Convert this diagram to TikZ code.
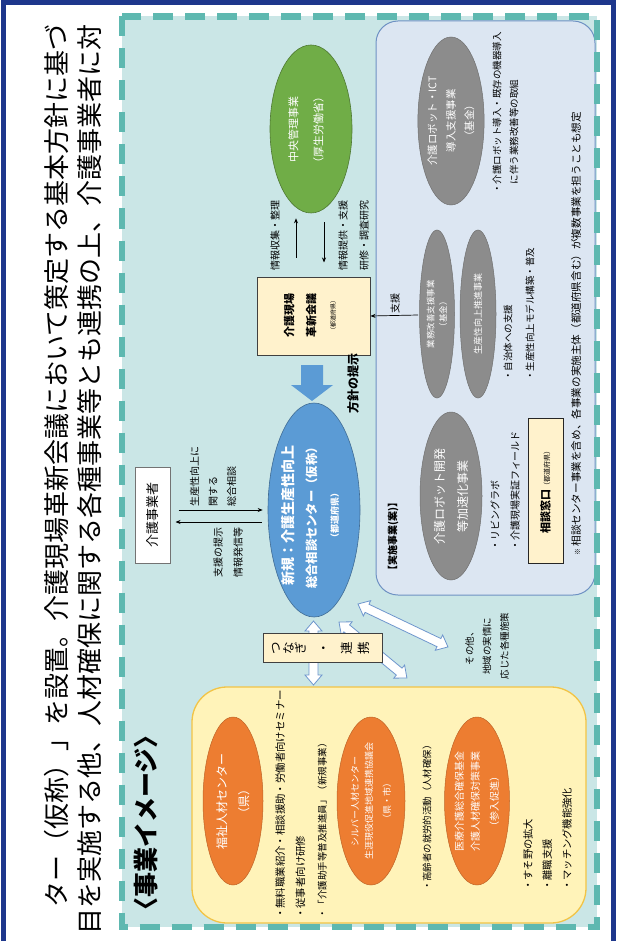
\documentclass[tikz,border=0pt]{standalone}
\usepackage{fontspec}
\setmainfont{Noto Sans CJK JP}
\usetikzlibrary{shapes.geometric,arrows.meta,calc}
\newcommand\myfs[1]{\fontsize{#1}{#1}\selectfont}
\definecolor{navy}{RGB}{30,55,140}
\definecolor{tealb}{RGB}{94,184,176}
\definecolor{tealf}{RGB}{202,230,230}
\definecolor{lbluef}{RGB}{220,230,242}
\definecolor{lbluel}{RGB}{110,145,195}
\definecolor{yelf}{RGB}{255,243,185}
\definecolor{yell}{RGB}{242,196,70}
\definecolor{beige}{RGB}{255,242,204}
\definecolor{grn}{RGB}{112,173,71}
\definecolor{blu}{RGB}{91,155,213}
\definecolor{org}{RGB}{237,125,49}
\definecolor{gry}{RGB}{140,140,140}
\definecolor{warrow}{RGB}{110,150,205}
\newcommand\dblarrow[3]{%
  \begin{scope}[shift={#1}, rotate=#2]
  \draw[draw=warrow, fill=white, line width=0.8pt, line join=miter]
    (0,0) -- (10,8.5) -- (10,4.5) -- (#3-10,4.5) -- (#3-10,8.5) -- (#3,0)
    -- (#3-10,-8.5) -- (#3-10,-4.5) -- (10,-4.5) -- (10,-8.5) -- cycle;
  \end{scope}}
\begin{document}
\begin{tikzpicture}[x=1pt,y=-1pt,
  txt/.style={rotate=90, inner sep=0pt, align=center},
  arr/.style={-{Stealth[length=5pt,width=4pt]}, line width=0.7pt, black},
  boxst/.style={rotate=90, draw=black!75, fill=beige, line width=1pt, inner sep=0pt},
  gell/.style={ellipse, rotate=90, fill=gry, draw=gry!80!black, line width=0.5pt, inner sep=0pt, text=white, align=center, minimum width=168pt},
  oell/.style={ellipse, rotate=90, fill=org, draw=org!80!black, line width=0.5pt, inner sep=0pt, text=white, align=center, minimum width=168pt}]
\useasboundingbox (0,0) rectangle (616,941);
\begin{scope}
\clip (0,0) rectangle (616,941);
\fill[white] (0,0) rectangle (616,941);
\draw[navy, line width=5pt] (3,3) rectangle (613,1000);
\node[txt, anchor=east, font=\myfs{26}] (h1) at (57,24) {ター（仮称）」を設置。介護現場革新会議において策定する基本方針に基づ};
\node[txt, anchor=east, font=\myfs{26}] (h2) at (90,24) {目を実施する他、人材確保に関する各種事業等とも連携の上、介護事業者に対};
\end{scope}
% background region
\fill[tealf] (122,16.5) rectangle (597,927);
\draw[lbluel, fill=lbluef, line width=1pt, rounded corners=22pt] (376,21) rectangle (595,595);
\draw[yell, fill=yelf, line width=1.3pt, rounded corners=35pt] (192,687) rectangle (586,923);
% white double arrows
\coordinate (w1a) at (313.5,621); \coordinate (w1b) at (313.5,685);
\coordinate (w2a) at (339,622); \coordinate (w2b) at (407,678);
\coordinate (w3a) at (358,604); \coordinate (w3b) at (448,647);
\dblarrow{(w1a)}{-90}{64}
\dblarrow{(w2a)}{-39.5}{88}
\dblarrow{(w3a)}{-25.5}{99.7}
% title
\node[txt, anchor=west, font=\bfseries\myfs{25}] (title) at (146,923) {〈事業イメージ〉};
% green ellipse
\node[ellipse, rotate=90, fill=grn, draw=grn!70!black, line width=0.6pt, minimum width=168pt, minimum height=82pt, inner sep=0pt] (chuo) at (311,129) {};
\node[txt, text=white, font=\myfs{11}] (chuot) at (306,130) {中央管理事業\\[14pt]（厚生労働省）};
% kaigi box
\node[boxst, minimum width=78pt, minimum height=113pt] (kaigi) at (313.5,316) {};
\node[txt, font=\bfseries\myfs{11}] (kaigit) at (310,315) {介護現場\\[11pt]革新会議\\[9pt]{\mdseries\myfs{6}（都道府県）}};
\draw[arr] ($(kaigi.east)+(-17.5,-19)$) -- ($(chuo.west)+(-15,5)$);
\draw[arr] ($(chuo.west)+(13,9)$) -- ($(kaigi.east)+(10.5,-14)$);
\node[txt, font=\myfs{10}] (lbl1) at (275,235) {情報収集・整理};
\node[txt, font=\myfs{10}] (lbl2) at (353.5,235) {情報提供・支援\\[11pt]研修・調査研究};
\coordinate (shienS) at (418,315);
\draw[arr] (shienS) -- (kaigi.south);
\node[txt, font=\myfs{10}] (shien) at (395,303) {支援};
% blue block arrow
\fill[blu] (301,365) -- (323,365) -- (323,385) -- (333,385) -- (312,401) -- (291,385) -- (301,385) -- cycle;
\node[txt, font=\bfseries\myfs{12}] (hoshin) at (353,383) {方針の提示};
% blue ellipse
\node[ellipse, rotate=90, fill=blu, draw=blu!70!black, line width=0.6pt, minimum width=214pt, minimum height=92pt, inner sep=0pt] (sodan) at (314,510) {};
\node[txt, text=white, font=\bfseries\myfs{12}] (sodant) at (310,515) {{\myfs{14}新規：介護生産性向上}\\[11pt]{\myfs{12.3}総合相談センター（仮称）}\\[10pt]{\myfs{9}（都道府県）}};
% jigyosha
\node[rotate=90, draw=black!55, fill=white, line width=1pt, minimum width=96pt, minimum height=35pt, inner sep=0pt, font=\myfs{13}] (jigyosha) at (152.5,515) {介護事業者};
\draw[arr] ($(jigyosha.south)+(8,-5)$) -- ($(sodan.north)+(-5,0)$);
\draw[arr] ($(sodan.north)+(-6,12)$) -- ($(jigyosha.south)+(5,7)$);
\node[txt, anchor=west, align=left, font=\myfs{10}] (lblA) at (213,507) {生産性向上に\\[8.5pt]関する\\[8.5pt]総合相談};
\node[txt, anchor=west, align=left, font=\myfs{10}] (lblB) at (228,578) {支援の提示\\[10pt]情報発信等};
% gray ellipses
\node[gell, minimum height=62pt, font=\myfs{10.5}] (g1) at (451,121) {介護ロボット・ICT\\[8pt]導入支援事業\\[8pt]（基金）};
\node[gell, minimum height=35pt, font=\myfs{8.5}] (g2) at (437,314) {業務改善支援事業\\[4pt]（基金）};
\node[gell, minimum height=36pt, font=\myfs{9}] (g3) at (478,314) {生産性向上推進事業};
\node[gell, minimum height=62pt, font=\myfs{12}] (g4) at (451,496) {介護ロボット開発\\[11pt]等加速化事業};
\node[txt, anchor=west, align=left, font=\myfs{9.5}] (b1) at (505.5,194) {・介護ロボット導入・既存の機器導入\\[7.5pt]\hspace*{9.5pt}に伴う業務改善等の取組};
\node[txt, anchor=west, align=left, font=\myfs{9.5}] (b2) at (519,381) {・自治体への支援\\[12.5pt]・生産性向上モデル構築・普及};
\node[txt, anchor=west, font=\bfseries\myfs{10}] (jisshi) at (393,576) {【実施事業(案)】};
\node[txt, anchor=west, align=left, font=\myfs{10}] (b3) at (505,551) {・リビングラボ\\[10pt]・介護現場実証フィールド};
\node[boxst, draw=black!85, minimum width=145pt, minimum height=35pt] (madoguchi) at (545.5,490.5) {{\bfseries\myfs{11}相談窓口}{\myfs{7}（都道府県）}};
\node[txt, anchor=west, font=\myfs{10.6}] (note) at (576,556) {{\myfs{7}※}\ 相談センター事業を含め、各事業の実施主体（都道府県含む）が複数事業を担うことも想定};
% tsunagi box
\node[boxst, minimum width=29pt, minimum height=119pt] (tsunagi) at (322.5,647.5) {};
\node[txt, font=\myfs{12.5}] (tsunagit) at (321,648) {つ\\[0.5pt]な\\[-0.5pt]ぎ\\[10.5pt]・\\[10.5pt]連\\[4.5pt]携};
\node[txt, font=\myfs{9.5}] (sonota) at (487,646) {その他、\\[8pt]地域の実情に\\[8pt]応じた各種施策};
% orange ellipses
\node[oell, minimum height=60pt, font=\myfs{12}] (o1) at (233,801) {福祉人材センター\\[10pt]（県）};
\node[oell, minimum height=68pt, font=\myfs{9}] (o2) at (371,801) {シルバー人材センター\\[5pt]生涯現役促進地域連携協議会\\[9pt]（県・市）};
\node[oell, minimum height=65pt, font=\myfs{10}] (o3) at (477,801) {医療介護総合確保基金\\[6pt]介護人材確保対策事業\\[9pt]（参入促進）};
\node[txt, anchor=west, align=left, font=\myfs{10.4}] (y1) at (301,919) {・無料職業紹介・相談援助・労働者向けセミナー\\[10pt]・従事者向け研修\\[11pt]{\myfs{9.5}・「介護助手等普及推進員」（新規事業）}};
\node[txt, anchor=west, font=\myfs{9.4}] (y2) at (427,891) {・高齢者の就労的活動（人材確保）};
\node[txt, anchor=west, align=left, font=\myfs{10.3}] (y3) at (547.5,891) {・すそ野の拡大\\[9pt]・離職支援\\[9.5pt]・マッチング機能強化};
% dashed border on top
\draw[tealb, line width=6.5pt, dash pattern=on 20pt off 12pt] (122,16.5) rectangle (597,927);
\end{tikzpicture}
\end{document}
